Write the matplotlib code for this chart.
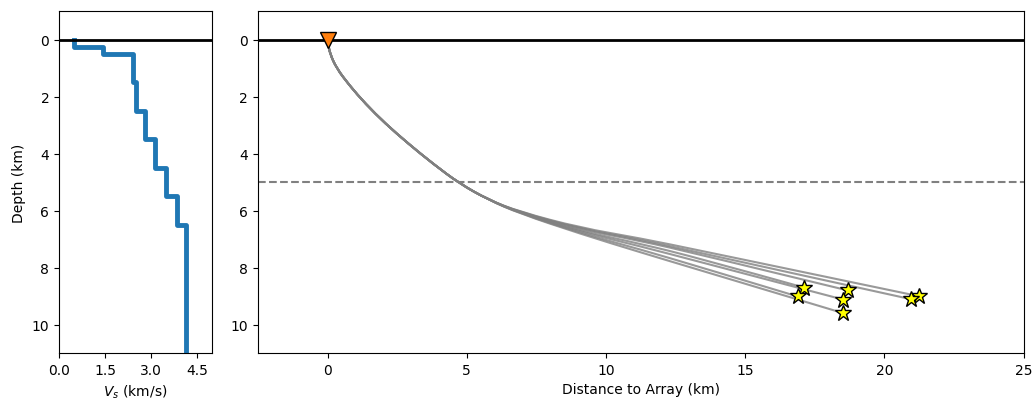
import numpy as np
import matplotlib
matplotlib.use("Agg")
import matplotlib.pyplot as plt
from matplotlib.path import Path
from matplotlib.patches import PathPatch

# Velocity model (layer tops in km, Vs in km/s)
layer_top = [0.0, 0.25, 0.5, 1.5, 2.5, 3.5, 4.5, 5.5, 6.5]
vs = [0.5, 1.45, 2.4, 2.5, 2.8, 3.15, 3.5, 3.85, 4.15]
model_bottom = 12.0

# Shared shallow part of the ray paths (distance km, depth km)
common_x = [0.0, 0.02, 0.09, 0.32, 0.78, 1.36, 2.08, 2.90, 3.78, 4.74, 5.78]
common_z = [0.0, 0.15, 0.50, 1.00, 1.60, 2.25, 2.95, 3.65, 4.35, 5.05, 5.62]

# Deeper ray waypoints per event
deep_x = [6.9, 9.07, 11.23, 13.38]
ray_z = [
    [6.04, 6.60, 6.97, 7.40],
    [6.05, 6.63, 7.02, 7.48],
    [6.06, 6.66, 7.06, 7.54],
    [6.07, 6.71, 7.16, 7.68],
    [6.08, 6.74, 7.25, 7.80],
    [6.09, 6.78, 7.36, 7.98],
    [6.10, 6.81, 7.46, 8.09],
]

# Event locations (distance km, depth km)
event_x = [21.23, 20.97, 18.69, 17.12, 18.52, 16.88, 18.50]
event_z = [9.00, 9.11, 8.80, 8.70, 9.12, 9.01, 9.59]

# Station
station_x = [0.0]
station_z = [0.0]


def smooth_path(xs, zs):
    pts = np.column_stack([xs, zs])
    verts = [pts[0]]
    codes = [Path.MOVETO]
    n = len(pts)
    for i in range(1, n - 1):
        end = pts[i + 1] if i == n - 2 else (pts[i] + pts[i + 1]) / 2
        verts += [pts[i], end]
        codes += [Path.CURVE3, Path.CURVE3]
    return Path(verts, codes)


fig = plt.figure(figsize=(10.36, 4.02), dpi=100)
ax1 = fig.add_axes([0.057, 0.119, 0.1477, 0.851])
ax2 = fig.add_axes([0.249, 0.119, 0.739, 0.851])

# Left: Vs profile
vs_x, vs_z = [], []
bottoms = layer_top[1:] + [model_bottom]
for top, bot, v in zip(layer_top, bottoms, vs):
    vs_x += [v, v]
    vs_z += [top, bot]
ax1.plot(vs_x, vs_z, color="C0", lw=3.5)
ax1.axhline(0, color="k", lw=2)
ax1.set_xlim(0, 5)
ax1.set_ylim(11, -1)
ax1.set_xticks([0, 1.5, 3.0, 4.5])
ax1.set_xticklabels(["0.0", "1.5", "3.0", "4.5"])
ax1.set_yticks([0, 2, 4, 6, 8, 10])
ax1.set_xlabel("$V_s$ (km/s)")
ax1.set_ylabel("Depth (km)")

# Right: ray paths
ax2.axhline(0, color="k", lw=2, zorder=1)
ax2.axhline(5, color="gray", ls="--", lw=1.5, zorder=1)
for zs, ex, ez in zip(ray_z, event_x, event_z):
    xs = common_x + deep_x + [ex]
    zz = common_z + zs + [ez]
    ax2.add_patch(PathPatch(smooth_path(xs, zz), fill=False, edgecolor="gray",
                            lw=1.5, alpha=0.8, zorder=2))
ax2.plot(event_x, event_z, ls="none", marker="*", ms=12, mfc="yellow",
         mec="k", mew=1.0, zorder=4)
ax2.plot(station_x, station_z, ls="none", marker="v", ms=11, mfc="C1",
         mec="k", mew=1.0, zorder=5)
ax2.set_xlim(-2.5, 25)
ax2.set_ylim(11, -1)
ax2.set_xticks([0, 5, 10, 15, 20, 25])
ax2.set_yticks([0, 2, 4, 6, 8, 10])
ax2.set_xlabel("Distance to Array (km)")

fig.savefig("out.png", dpi=100)
